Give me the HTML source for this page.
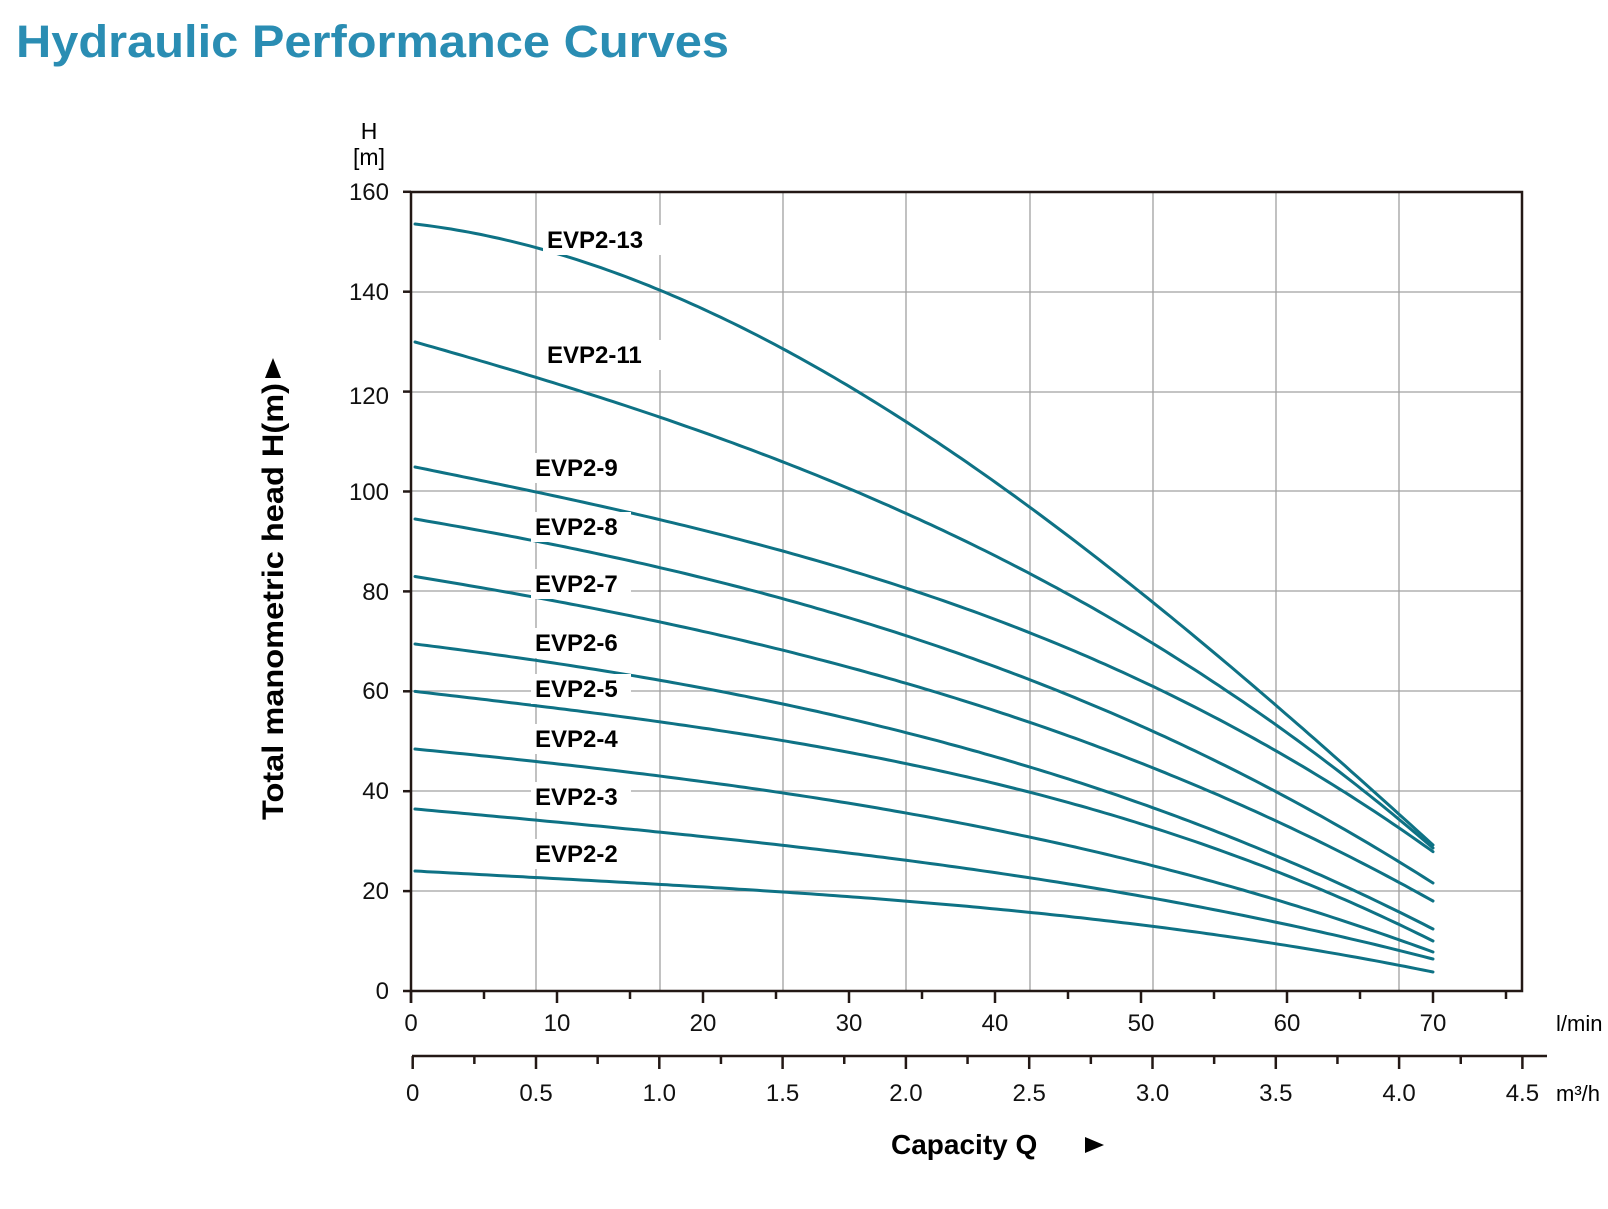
<!DOCTYPE html>
<html><head><meta charset="utf-8"><style>
html,body{margin:0;padding:0;background:#fff;}
svg{display:block;font-family:"Liberation Sans",Arial,sans-serif;}
</style></head><body>
<svg id="s" width="1608" height="1209" viewBox="0 0 1608 1209" xmlns="http://www.w3.org/2000/svg">
<text x="16" y="57" font-size="45" font-weight="bold" fill="#2a8db3" textLength="713" lengthAdjust="spacingAndGlyphs">Hydraulic Performance Curves</text>
<g stroke="#a0a0a0" stroke-width="1.3" fill="none">
<line x1="536" y1="192" x2="536" y2="991"/><line x1="660" y1="192" x2="660" y2="991"/>
<line x1="783" y1="192" x2="783" y2="991"/><line x1="906" y1="192" x2="906" y2="991"/>
<line x1="1030" y1="192" x2="1030" y2="991"/><line x1="1153" y1="192" x2="1153" y2="991"/>
<line x1="1276" y1="192" x2="1276" y2="991"/><line x1="1399" y1="192" x2="1399" y2="991"/>
<line x1="411" y1="292" x2="1522" y2="292"/><line x1="411" y1="392" x2="1522" y2="392"/>
<line x1="411" y1="491" x2="1522" y2="491"/><line x1="411" y1="591" x2="1522" y2="591"/>
<line x1="411" y1="691" x2="1522" y2="691"/><line x1="411" y1="791" x2="1522" y2="791"/>
<line x1="411" y1="891" x2="1522" y2="891"/>
</g>
<g id="curves" fill="none" stroke="#0e7285" stroke-width="3" stroke-linecap="round"></g>
<g font-size="24" font-weight="bold" fill="#000">
<rect x="543" y="225" width="118" height="30" fill="#fff"/><text x="547" y="248">EVP2-13</text>
<rect x="543" y="340" width="118" height="30" fill="#fff"/><text x="547" y="363">EVP2-11</text>
<rect x="531" y="453" width="100" height="30" fill="#fff"/><text x="535" y="476">EVP2-9</text>
<rect x="531" y="512" width="100" height="30" fill="#fff"/><text x="535" y="535">EVP2-8</text>
<rect x="531" y="569" width="100" height="30" fill="#fff"/><text x="535" y="592">EVP2-7</text>
<rect x="531" y="628" width="100" height="30" fill="#fff"/><text x="535" y="651">EVP2-6</text>
<rect x="531" y="674" width="100" height="30" fill="#fff"/><text x="535" y="697">EVP2-5</text>
<rect x="531" y="724" width="100" height="30" fill="#fff"/><text x="535" y="747">EVP2-4</text>
<rect x="531" y="782" width="100" height="30" fill="#fff"/><text x="535" y="805">EVP2-3</text>
<rect x="531" y="839" width="100" height="30" fill="#fff"/><text x="535" y="862">EVP2-2</text>
</g>
<g stroke="#231815" stroke-width="2.5" fill="none">
<polyline points="411,1003 411,192 1522,192 1522,991 403,991"/>
<line x1="412" y1="1056" x2="1547" y2="1056"/>
</g>
<g id="ticks" stroke="#231815" stroke-width="2.5"></g>
<g font-size="24" fill="#111" text-anchor="end">
<text x="389" y="200">160</text><text x="389" y="300">140</text><text x="389" y="404">120</text>
<text x="389" y="500">100</text><text x="389" y="600">80</text><text x="389" y="699">60</text>
<text x="389" y="799">40</text><text x="389" y="899">20</text><text x="389" y="999">0</text>
</g>
<text x="369" y="139" font-size="23" text-anchor="middle">H</text>
<text x="369" y="165" font-size="23" text-anchor="middle">[m]</text>
<text transform="translate(283,820) rotate(-90)" font-size="30" font-weight="bold" textLength="437" lengthAdjust="spacingAndGlyphs">Total manometric head H(m)</text>
<polygon points="265,378 281,378 273,358" fill="#000"/>
<g id="xl" font-size="24" fill="#111" text-anchor="middle"></g>
<text x="1556" y="1031" font-size="22">l/min</text>
<text x="1556" y="1101" font-size="22">m³/h</text>
<text x="891" y="1154" font-size="28" font-weight="bold">Capacity Q</text>
<polygon points="1085,1137 1085,1153 1104,1145" fill="#000"/>
</svg>
<script>
var NS="http://www.w3.org/2000/svg";
var X=[415,906,1150,1433];
var D=[[224,421.7,600,845],[342,513.4,641.7,848],[467,588.1,685,851.7],[519,635.7,730,883],[576.5,683.3,766.7,901],[644,732.6,806.7,929],[691.4,763.6,826.7,941],[749,813,865,952],[809,860.3,897.7,959],[871,901.1,926,972]];
function lag(x,Y){var s=0;for(var i=0;i<4;i++){var p=Y[i];for(var j=0;j<4;j++)if(j!=i)p*=(x-X[j])/(X[i]-X[j]);s+=p;}return s;}
var g=document.getElementById("curves");
D.forEach(function(Y){var d="";for(var x=415;x<=1433;x+=6){d+=(d?"L":"M")+x+","+lag(x,Y).toFixed(1);}d+="L1433,"+Y[3];var p=document.createElementNS(NS,"path");p.setAttribute("d",d);g.appendChild(p);});
var t=document.getElementById("ticks"),xl=document.getElementById("xl");
function ln(a,b,c,d){var l=document.createElementNS(NS,"line");l.setAttribute("x1",a);l.setAttribute("y1",b);l.setAttribute("x2",c);l.setAttribute("y2",d);t.appendChild(l);}
function tx(x,y,s){var e=document.createElementNS(NS,"text");e.setAttribute("x",x);e.setAttribute("y",y);e.textContent=s;xl.appendChild(e);}
for(var q=0;q<=75;q+=5){var x=411+14.6*q;ln(x,991,x,q%10==0?1003:999);if(q%10==0)tx(x,1031,""+q);}
for(var i=1;i<=8;i++){ln(403,991-99.9*i,411,991-99.9*i);}
var lab=["0","0.5","1.0","1.5","2.0","2.5","3.0","3.5","4.0","4.5"];
for(var k=0;k<=18;k++){var x=412.7+246.6*k/4;ln(x,1056,x,k%2==0?1069:1064);if(k%2==0)tx(x,1101,lab[k/2]);}
</script>
</body></html>
